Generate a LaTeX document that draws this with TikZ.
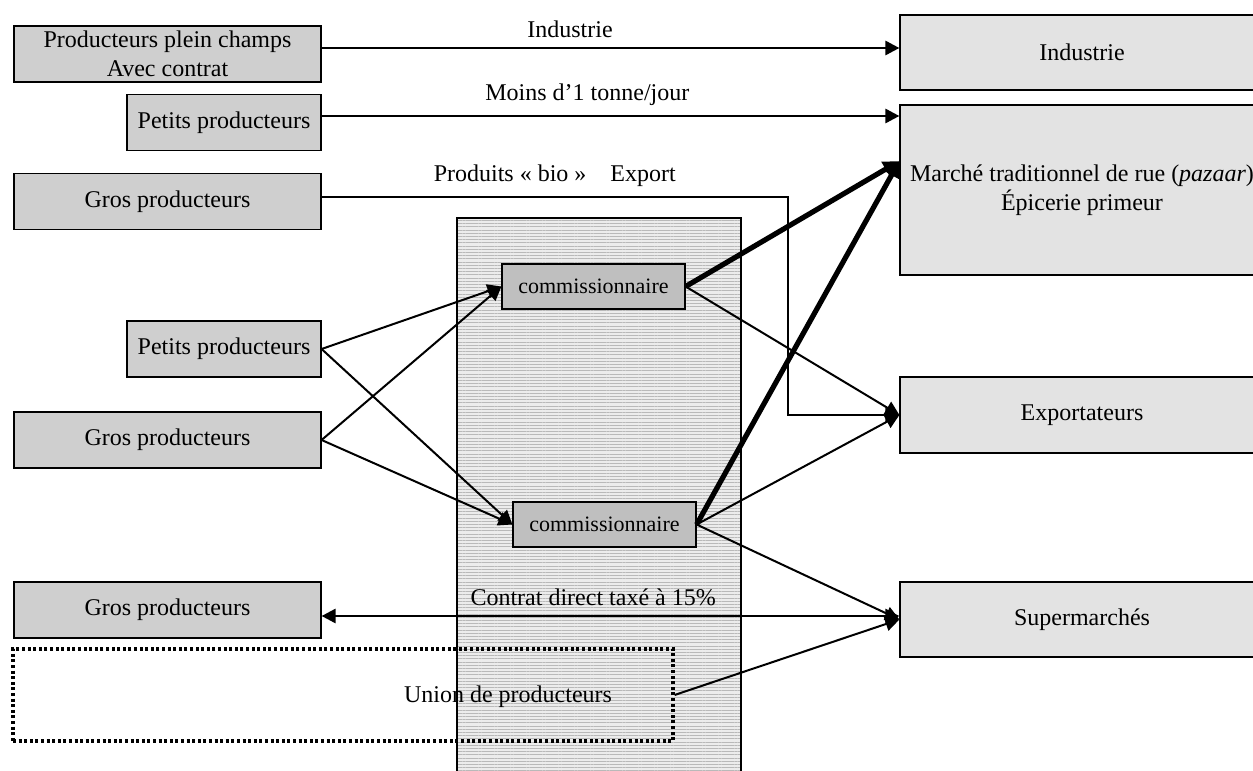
\documentclass[tikz,border=0pt]{standalone}
\usepackage{fontspec}
\setmainfont{Liberation Serif}
\usetikzlibrary{arrows.meta,patterns.meta}

\begin{document}
\begin{tikzpicture}[x=0.5pt,y=-0.5pt,>={Triangle[length=7pt,width=7pt]},font=\fontsize{12}{14.5}\selectfont,
    prod node/.style={rectangle,draw,line width=0.6pt,fill=gray!38,minimum height=28pt,inner ysep=1pt,align=center},
    dest node/.style={rectangle,draw,line width=0.6pt,fill=gray!22,minimum width=182pt,inner sep=1pt,align=center},
    comm node/.style={rectangle,draw,line width=0.6pt,fill=gray!50,minimum width=91.5pt,minimum height=22.5pt,font=\fontsize{11}{13}\selectfont},
    union node/.style={rectangle,draw,line width=1.6pt,dash pattern=on 1.5pt off 1.3pt},
    flow/.style={->,line width=1pt},
    long flow/.style={->,line width=1.4pt},
    big flow/.style={-{Triangle[length=8pt,width=8pt]},line width=2.6pt},
    zone/.style={draw,line width=1.2pt,preaction={fill=gray!15},pattern={Lines[angle=0,distance=1.6pt,line width=0.5pt]},pattern color=gray!55}]

    \useasboundingbox (0,0) rectangle (1253,771);
    \draw[zone] (457,218) rectangle (741,800);

    \node[prod node,minimum width=153.5pt] (ppc) at (167.5,54) {Producteurs plein champs\\Avec contrat};
    \node[prod node,minimum width=97pt] (petits1) at (224,122.5) {Petits producteurs};
    \node[prod node,minimum width=153.5pt] (gros1) at (167.5,201.5) {Gros producteurs};
    \node[prod node,minimum width=97pt] (petits2) at (224,349) {Petits producteurs};
    \node[prod node,minimum width=153.5pt] (gros2) at (167.5,440) {Gros producteurs};
    \node[prod node,minimum width=153.5pt] (gros3) at (167.5,610) {Gros producteurs};
    \node[union node,minimum width=330pt,minimum height=46pt] (union) at (343,695) {};
    \node (uniontxt) at (508,697) {Union de producteurs};

    \node[comm node] (comm1) at (593.5,286.5) {commissionnaire};
    \node[comm node] (comm2) at (604.5,524.5) {commissionnaire};

    \node[dest node,minimum height=37.5pt] (industrie) at (1082,52.5) {Industrie};
    \node[dest node,minimum height=85pt] (marche) at (1082,190) {Marché traditionnel de rue (\textit{pazaar})\\Épicerie primeur};
    \node[dest node,minimum height=38pt] (export) at (1082,415) {Exportateurs};
    \node[dest node,minimum height=37.5pt] (super) at (1082,619.5) {Supermarchés};

    \coordinate (indrow) at (0,48);
    \coordinate (moinsrow) at (0,116);
    \coordinate (bioturn) at (788,197);
    \coordinate (controw) at (0,616);

    \draw[long flow] (ppc.east |- indrow) -- node[pos=0.43,above=1pt] {Industrie} (industrie.west |- indrow);
    \draw[long flow] (petits1.east |- moinsrow) -- node[pos=0.46,above=1pt] {Moins d’1 tonne/jour} (marche.west |- moinsrow);
    \draw[long flow] (gros1.east |- bioturn) -- node[above=1pt] {Produits «~bio~»\hspace{12pt}Export} (bioturn) |- (export.west);
    \draw[long flow,<->] (gros3.east |- controw) -- node[pos=0.47,above=1pt] {Contrat direct taxé à 15\%} (super.west |- controw);

    \path[flow] (petits2.east) edge (comm1.west) edge (comm2.west)
    (gros2.east) edge (comm1.west) edge (comm2.west)
    (comm1.east) edge (export.west)
    (comm2.east) edge (export.west) edge (super.west)
    (union.east) edge (super.west);
    \path[big flow] (comm1.east) edge (marche.171)
    (comm2.east) edge (marche.171);
\end{tikzpicture}
\end{document}
